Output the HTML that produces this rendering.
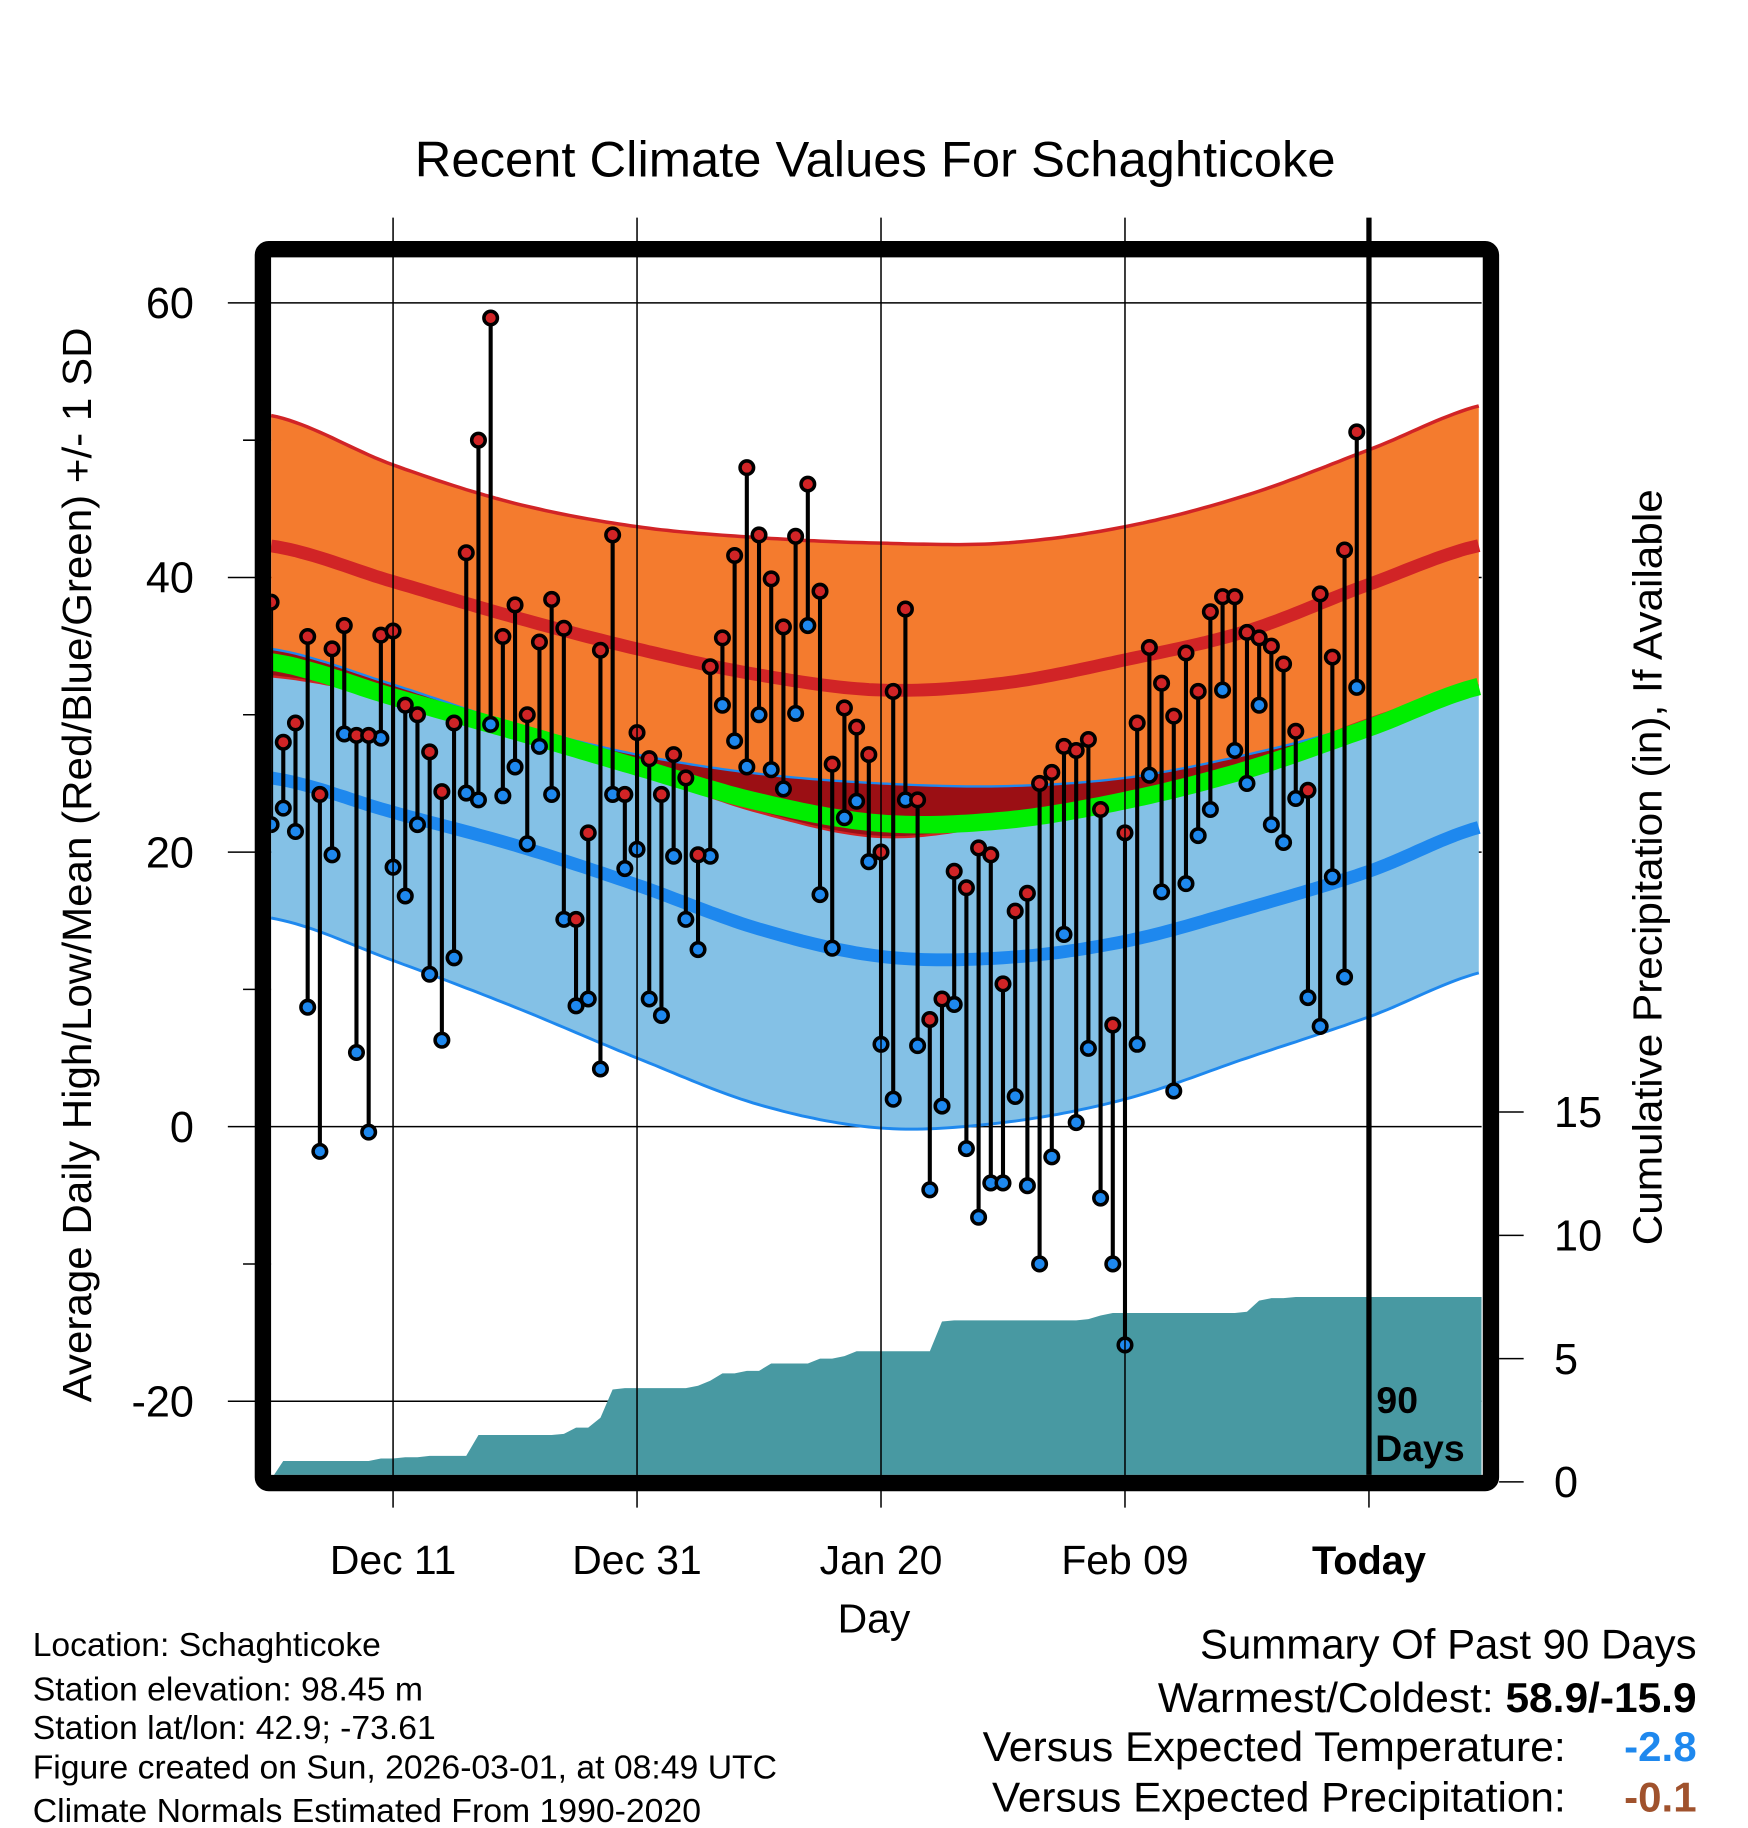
<!DOCTYPE html>
<html><head><meta charset="utf-8">
<style>
html,body{margin:0;padding:0;background:#fff;}
svg{display:block;font-family:"Liberation Sans",Arial,sans-serif;}
</style></head>
<body>
<svg id="chart" width="1748" height="1828" viewBox="0 0 1496 1564" xmlns="http://www.w3.org/2000/svg">
<text x="749" y="151" font-size="43" text-anchor="middle" textLength="788" lengthAdjust="spacingAndGlyphs">Recent Climate Values For Schaghticoke</text>
<g id="plot"></g>
<text transform="translate(78,740) rotate(-90)" font-size="35" text-anchor="middle" textLength="920" lengthAdjust="spacingAndGlyphs">Average Daily High/Low/Mean (Red/Blue/Green) +/- 1 SD</text>
<text transform="translate(1422,742) rotate(-90)" font-size="35" text-anchor="middle" textLength="647" lengthAdjust="spacingAndGlyphs">Cumulative Precipitation (in), If Available</text>
<text x="748" y="1397" font-size="35" text-anchor="middle">Day</text>
<g font-size="28.5">
<text x="28" y="1417" textLength="298" lengthAdjust="spacingAndGlyphs">Location: Schaghticoke</text>
<text x="28" y="1455" textLength="334" lengthAdjust="spacingAndGlyphs">Station elevation: 98.45 m</text>
<text x="28" y="1488" textLength="345" lengthAdjust="spacingAndGlyphs">Station lat/lon: 42.9; -73.61</text>
<text x="28" y="1522" textLength="637" lengthAdjust="spacingAndGlyphs">Figure created on Sun, 2026-03-01, at 08:49 UTC</text>
<text x="28" y="1559" textLength="572" lengthAdjust="spacingAndGlyphs">Climate Normals Estimated From 1990-2020</text>
</g>
<g font-size="36">
<text x="1452" y="1419" text-anchor="end" textLength="425" lengthAdjust="spacingAndGlyphs">Summary Of Past 90 Days</text>
<text x="1452" y="1465" text-anchor="end" textLength="461" lengthAdjust="spacingAndGlyphs">Warmest/Coldest: <tspan font-weight="bold">58.9/-15.9</tspan></text>
<text x="1340" y="1507" text-anchor="end" textLength="499" lengthAdjust="spacingAndGlyphs">Versus Expected Temperature:</text>
<text x="1452" y="1507" text-anchor="end" font-weight="bold" fill="#1e88ee">-2.8</text>
<text x="1340" y="1550" text-anchor="end" textLength="491" lengthAdjust="spacingAndGlyphs">Versus Expected Precipitation:</text>
<text x="1452" y="1550" text-anchor="end" font-weight="bold" fill="#a0522d">-0.1</text>
</g>
</svg>
<script>
const highs=[38.2,28.0,29.4,35.7,24.2,34.8,36.5,28.5,28.5,35.8,36.1,30.7,30.0,27.3,24.4,29.4,41.8,50.0,58.9,35.7,38.0,30.0,35.3,38.4,36.3,15.1,21.4,34.7,43.1,24.2,28.7,26.8,24.2,27.1,25.4,19.8,33.5,35.6,41.6,48.0,43.1,39.9,36.4,43.0,46.8,39.0,26.4,30.5,29.1,27.1,20.0,31.7,37.7,23.8,7.8,9.3,18.6,17.4,20.3,19.8,10.4,15.7,17.0,25.0,25.8,27.7,27.4,28.2,23.1,7.4,21.4,29.4,34.9,32.3,29.9,34.5,31.7,37.5,38.6,38.6,36.0,35.6,35.0,33.7,28.8,24.5,38.8,34.2,42.0,50.6];
const lows=[22.0,23.2,21.5,8.7,-1.8,19.8,28.6,5.4,-0.4,28.3,18.9,16.8,22.0,11.1,6.3,12.3,24.3,23.8,29.3,24.1,26.2,20.6,27.7,24.2,15.1,8.8,9.3,4.2,24.2,18.8,20.2,9.3,8.1,19.7,15.1,12.9,19.7,30.7,28.1,26.2,30.0,26.0,24.6,30.1,36.5,16.9,13.0,22.5,23.7,19.3,6.0,2.0,23.8,5.9,-4.6,1.5,8.9,-1.6,-6.6,-4.1,-4.1,2.2,-4.3,-10.0,-2.2,14.0,0.3,5.7,-5.2,-10.0,-15.9,6.0,25.6,17.1,2.6,17.7,21.2,23.1,31.8,27.4,25.0,30.7,22.0,20.7,23.9,9.4,7.3,18.2,10.9,32.0];
const precipCum=[0.1,0.85,0.85,0.85,0.85,0.85,0.85,0.85,0.85,0.95,0.95,1.0,1.0,1.05,1.05,1.05,1.05,1.9,1.9,1.9,1.9,1.9,1.9,1.9,1.95,2.2,2.2,2.6,3.75,3.8,3.8,3.8,3.8,3.8,3.8,3.9,4.1,4.4,4.4,4.5,4.5,4.8,4.8,4.8,4.8,5.0,5.0,5.1,5.3,5.3,5.3,5.3,5.3,5.3,5.3,6.5,6.55,6.55,6.55,6.55,6.55,6.55,6.55,6.55,6.55,6.55,6.55,6.6,6.75,6.85,6.85,6.85,6.85,6.85,6.85,6.85,6.85,6.85,6.85,6.85,6.9,7.35,7.45,7.45,7.5,7.5,7.5,7.5,7.5,7.5];
const normDays=[0,10,20,30,40,50,60,70,80,90,100];
const hiSDp=[51.8,48.2,45.4,43.7,42.9,42.5,42.5,43.7,46.0,49.3,52.7];
const hiN=[42.3,39.7,37.1,34.8,32.9,31.8,32.3,34.0,36.1,39.5,42.5];
const hiSDm=[32.8,31.2,28.8,25.9,22.9,21.1,22.1,24.3,26.2,29.7,32.3];
const loSDp=[34.8,32.2,29.3,27.1,25.7,25.0,24.8,25.4,27.1,29.4,32.2];
const loN=[25.4,22.9,20.5,17.6,14.4,12.4,12.3,13.5,15.9,18.6,22.0];
const loSDm=[15.2,12.1,8.7,5.0,1.6,-0.1,0.3,2.0,5.0,8.0,11.4];
const yTicks=[60,40,20,0,-20];
const yMinor=[50,30,10,-10];
const y2Ticks=[0,5,10,15];
const xTickDays=[10,30,50,70,90];
const xTickLabels=["Dec 11","Dec 31","Jan 20","Feb 09","Today"];

const NS="http://www.w3.org/2000/svg";
const X0=232,X1=1268,Y0=220,Y1=1262;
const xs=d=>X0+10.44*d;
const ys=t=>964-11.75*t;
const yp=p=>1268-21.1*p;
const plot=document.getElementById('plot');
function mk(tag,attrs,parent){const e=document.createElementNS(NS,tag);for(const k in attrs)e.setAttribute(k,attrs[k]);(parent||plot).appendChild(e);return e;}
function interp(arr,d){
  const i=Math.min(Math.max(Math.floor(d/10),0),arr.length-2),t=d/10-i;
  const p0=arr[Math.max(i-1,0)],p1=arr[i],p2=arr[i+1],p3=arr[Math.min(i+2,arr.length-1)];
  return 0.5*((2*p1)+(-p0+p2)*t+(2*p0-5*p1+4*p2-p3)*t*t+(-p0+3*p1-3*p2+p3)*t*t*t);
}
const dEnd=(X1-X0)/10.44;
function curvePts(fn){const pts=[];for(let d=0;d<=dEnd+0.01;d+=0.5)pts.push([xs(d),ys(fn(d))]);return pts;}
function bandPath(fa,fb){const a=curvePts(fa),b=curvePts(fb).reverse();return 'M'+a.concat(b).map(p=>p[0].toFixed(1)+','+p[1].toFixed(1)).join('L')+'Z';}
function linePath(fn){return 'M'+curvePts(fn).map(p=>p[0].toFixed(1)+','+p[1].toFixed(1)).join('L');}

const defs=mk('defs',{});
const cp=mk('clipPath',{id:'pc'},defs);
mk('rect',{x:X0,y:Y0,width:X1-X0,height:Y1-Y0},cp);

yTicks.forEach(t=>{
  const g=mk('line',{x1:195,x2:X1,y1:ys(t),y2:ys(t),stroke:'#000','stroke-width':1.3});
  
  
  const l=mk('text',{x:166,y:ys(t)+13,'font-size':37,'text-anchor':'end'});l.textContent=t;
  
  
});
yMinor.forEach(t=>{mk('line',{x1:208,x2:X0,y1:ys(t),y2:ys(t),stroke:'#000','stroke-width':1.3});});

const g=mk('g',{'clip-path':'url(#pc)'});


const fH=d=>interp(hiN,d),fHp=d=>interp(hiSDp,d),fHm=d=>interp(hiSDm,d);
const fL=d=>interp(loN,d),fLp=d=>interp(loSDp,d),fLm=d=>interp(loSDm,d);
const fM=d=>(fH(d)+fL(d))/2;
let e;
e=mk('path',{d:bandPath(fHp,fHm),fill:'#f47b2e'},g);
e=mk('path',{d:bandPath(fLp,fLm),fill:'#84c1e6'},g);
e=mk('path',{d:bandPath(fLp,d=>Math.min(fHm(d),fLp(d))),fill:'#9b0f14'},g);
mk('path',{d:linePath(fHp),fill:'none',stroke:'#d12426','stroke-width':3},g);
mk('path',{d:linePath(fHm),fill:'none',stroke:'#d12426','stroke-width':2},g);
mk('path',{d:linePath(fLp),fill:'none',stroke:'#1e88ee','stroke-width':2},g);
mk('path',{d:linePath(fLm),fill:'none',stroke:'#1e88ee','stroke-width':2.5},g);
e=mk('path',{d:linePath(fH),fill:'none',stroke:'#d12426','stroke-width':11},g);
e=mk('path',{d:linePath(fL),fill:'none',stroke:'#1e88ee','stroke-width':11},g);
e=mk('path',{d:linePath(fM),fill:'none',stroke:'#00ee00','stroke-width':15},g);

let pd='M'+X0+','+yp(0);
precipCum.forEach((p,i)=>{pd+='L'+xs(i).toFixed(1)+','+yp(p).toFixed(1);});
pd+='L'+X1+','+yp(precipCum[precipCum.length-1]).toFixed(1)+'L'+X1+','+yp(0)+'Z';
e=mk('path',{d:pd,fill:'#4899a2'},g);



xTickDays.forEach((d,i)=>{
  const w=(i===4)?4.5:1.3;
  const l=mk('line',{x1:xs(d),x2:xs(d),y1:186,y2:(i===4)?Y1:1290,stroke:'#000','stroke-width':w});
  
  
  if(i===4)mk('line',{x1:xs(d),x2:xs(d),y1:Y1,y2:1290,stroke:'#000','stroke-width':1.3});
  const t=mk('text',{x:xs(d),y:1347,'font-size':35,'text-anchor':'middle'});
  if(i===4){t.setAttribute('font-weight','bold');t.setAttribute('font-size','34');}
  t.textContent=xTickLabels[i];
  
  
});

highs.forEach((h,i)=>{
  const s=mk('line',{x1:xs(i),x2:xs(i),y1:ys(h),y2:ys(lows[i]),stroke:'#000','stroke-width':3.5},g);
  
  
});
lows.forEach((l,i)=>{
  const c=mk('circle',{cx:xs(i),cy:ys(l),r:5.8,fill:'#1e88ee',stroke:'#000','stroke-width':3},g);
  
  
});
highs.forEach((h,i)=>{
  const c=mk('circle',{cx:xs(i),cy:ys(h),r:5.8,fill:'#d12426',stroke:'#000','stroke-width':3},g);
  
  
});

e=mk('text',{x:1178,y:1209,'font-size':32,'font-weight':'bold'});e.textContent='90';

e=mk('text',{x:1177,y:1250,'font-size':32,'font-weight':'bold'});e.textContent='Days';


e=mk('rect',{x:225,y:213,width:1051,height:1056,fill:'none',stroke:'#000','stroke-width':14,rx:5});


y2Ticks.forEach(p=>{
  mk('line',{x1:1283,x2:1304,y1:yp(p),y2:yp(p),stroke:'#000','stroke-width':1.3});
  const t=mk('text',{x:1330,y:yp(p)+13,'font-size':37});t.textContent=p;
  
  
});
</script>
</body></html>
